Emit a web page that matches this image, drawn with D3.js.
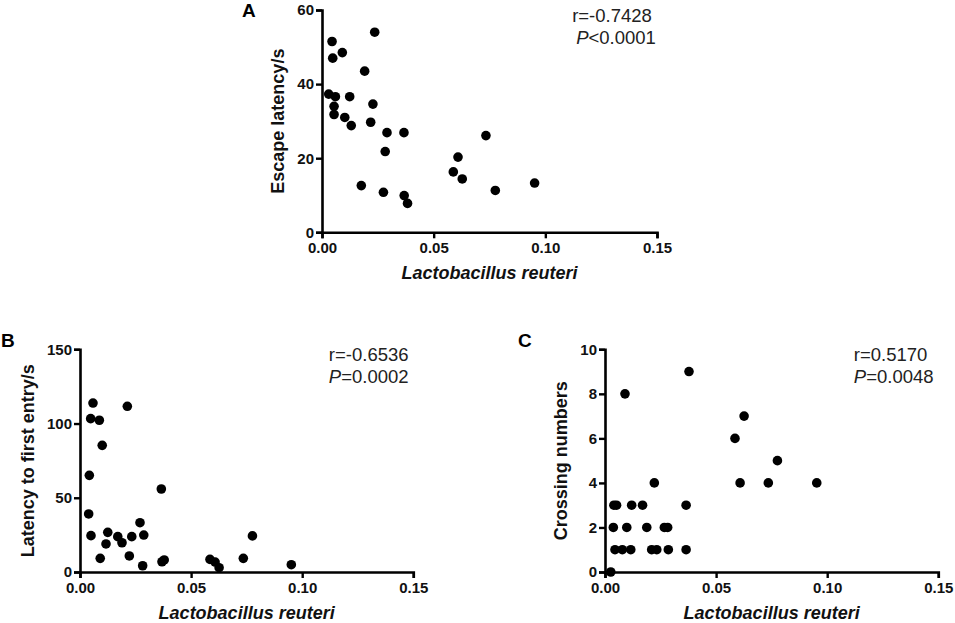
<!DOCTYPE html>
<html>
<head>
<meta charset="utf-8">
<script src="https://cdn.jsdelivr.net/npm/d3@7"></script>
<style>
  html, body { margin: 0; padding: 0; background: #fff; }
  svg { display: block; }
  text { font-family: "Liberation Sans", Arial, sans-serif; }
</style>
</head>
<body>
<svg id="chart" width="955" height="623"></svg>
<script>
// ---- Data ----
const xLabel = "Lactobacillus reuteri";
const xTicks = [0, 0.05, 0.10, 0.15];

// Panel A: Escape latency/s
const aX = [0.0030, 0.0060, 0.0124, 0.0054, 0.0054, 0.0102, 0.0131, 0.0228, 0.0218, 0.0291, 0.0367, 0.0283,
            0.0045, 0.0048, 0.0091, 0.0191, 0.0236,
            0.0176, 0.0275, 0.0368, 0.0383,
            0.0588, 0.0609, 0.0628, 0.0734, 0.0776, 0.0952];
const aY = [37.3, 36.6, 36.6, 34.0, 31.8, 31.0, 28.8, 34.6, 29.7, 26.9, 26.9, 21.8,
            51.5, 47.0, 48.5, 43.5, 54.0,
            12.6, 10.8, 9.9, 7.8,
            16.3, 20.3, 14.4, 26.1, 11.3, 13.3];
const aTicks = [0, 20, 40, 60];

// Panel B: Latency to first entry/s
const bX = [0.00585, 0.0048, 0.0087, 0.0100, 0.0042, 0.0039, 0.00495, 0.0213, 0.0366,
            0.0125, 0.0117, 0.0170, 0.0189, 0.0233, 0.0287, 0.0270, 0.0091, 0.0222, 0.0282, 0.0369, 0.0379,
            0.0585, 0.0608, 0.0626, 0.0735, 0.0776, 0.0951];
const bY = [113.8, 103.3, 102.2, 85.3, 65.1, 39.1, 24.5, 111.6, 55.9,
            26.7, 18.9, 23.8, 19.7, 23.8, 24.9, 33.2, 9.2, 10.8, 4.2, 6.9, 8.1,
            8.5, 6.7, 2.9, 9.2, 24.3, 4.9];
const bTicks = [0, 50, 100, 150];

// Panel C: Crossing numbers
const cX = [0.0026,
            0.0045, 0.0078, 0.0116, 0.0210, 0.0233, 0.0285, 0.0365,
            0.00375, 0.0098, 0.0188, 0.0267, 0.0282,
            0.0040, 0.0052, 0.0120, 0.0169, 0.0365,
            0.0222, 0.0608, 0.0735, 0.0953,
            0.0776, 0.0585, 0.0626, 0.0090, 0.0378];
const cY = [0,
            1, 1, 1, 1, 1, 1, 1,
            2, 2, 2, 2, 2,
            3, 3, 3, 3, 3,
            4, 4, 4, 4,
            5, 6, 7, 8, 9];
const cTicks = [0, 2, 4, 6, 8, 10];

const panels = [
  { letter: "A", xs: aX, ys: aY, yTicks: aTicks, yMax: 60, yTitle: "Escape latency/s",
    r: "r=-0.7428", pSym: "<", pVal: "0.0001",
    x0: 322, x1: 657, yTop: 10, yBot: 232.3, titleOff: 44, letterX: 242, letterY: 17, rdx: 0, pdx: 4 },
  { letter: "B", xs: bX, ys: bY, yTicks: bTicks, yMax: 150, yTitle: "Latency to first entry/s",
    r: "r=-0.6536", pSym: "=", pVal: "0.0002",
    x0: 80, x1: 413.3, yTop: 349.3, yBot: 572, titleOff: 52, letterX: 1, letterY: 347, rdx: 0, pdx: 0 },
  { letter: "C", xs: cX, ys: cY, yTicks: cTicks, yMax: 10, yTitle: "Crossing numbers",
    r: "r=0.5170", pSym: "=", pVal: "0.0048",
    x0: 605, x1: 938.3, yTop: 349.3, yBot: 572, titleOff: 44.5, letterX: 518, letterY: 347, rdx: 0, pdx: 0 }
];

const svg = d3.select("#chart");

panels.forEach(p => {
  const x = d3.scaleLinear().domain([0, 0.15]).range([p.x0, p.x1]);
  const y = d3.scaleLinear().domain([0, p.yMax]).range([p.yBot, p.yTop]);
  const g = svg.append("g");

  const xAxis = g.append("g")
    .attr("transform", `translate(0,${p.yBot})`)
    .call(d3.axisBottom(x).tickValues(xTicks).tickFormat(d3.format(".2f")).tickSizeOuter(0).tickSize(6).tickPadding(4));
  const yAxis = g.append("g")
    .attr("transform", `translate(${p.x0},0)`)
    .call(d3.axisLeft(y).tickValues(p.yTicks).tickFormat(d3.format("d")).tickSizeOuter(0).tickSize(6).tickPadding(2));

  [xAxis, yAxis].forEach(ax => {
    ax.select(".domain").attr("stroke", "#000").attr("stroke-width", 2.6);
    ax.selectAll(".tick line").attr("stroke", "#000").attr("stroke-width", 2.4);
    ax.selectAll(".tick text")
      .attr("fill", "#111")
      .style("font-family", '"Liberation Sans", Arial, sans-serif')
      .style("font-size", "15px")
      .style("font-weight", "bold");
  });

  // points
  g.append("g").selectAll("circle")
    .data(p.xs.map((v, i) => [v, p.ys[i]]))
    .join("circle")
    .attr("cx", d => x(d[0]))
    .attr("cy", d => y(d[1]))
    .attr("r", 4.8)
    .attr("fill", "#000");

  // x axis title
  g.append("text")
    .attr("x", (p.x0 + p.x1) / 2)
    .attr("y", p.yBot + 47)
    .attr("text-anchor", "middle")
    .style("font-size", "18px")
    .style("font-weight", "bold")
    .style("font-style", "italic")
    .attr("fill", "#111")
    .text(xLabel);

  // y axis title
  const cy = (p.yTop + p.yBot) / 2;
  g.append("text")
    .attr("transform", `translate(${p.x0 - p.titleOff + 6},${cy}) rotate(-90)`)
    .attr("text-anchor", "middle")
    .style("font-size", "18px")
    .style("font-weight", "bold")
    .attr("fill", "#111")
    .text(p.yTitle);

  // panel letter
  g.append("text")
    .attr("x", p.letterX)
    .attr("y", p.letterY)
    .style("font-size", "19px")
    .style("font-weight", "bold")
    .attr("fill", "#000")
    .text(p.letter);

  // stats
  const sx = x(0.112);
  g.append("text")
    .attr("x", sx + p.rdx)
    .attr("y", p.yTop + 11.5)
    .style("font-size", "18.5px")
    .attr("fill", "#222")
    .text(p.r);
  const pt = g.append("text")
    .attr("x", sx + p.pdx)
    .attr("y", p.yTop + 33.5)
    .style("font-size", "18.5px")
    .attr("fill", "#222");
  pt.append("tspan").style("font-style", "italic").text("P");
  pt.append("tspan").text(p.pSym + p.pVal);
});
</script>
</body>
</html>
